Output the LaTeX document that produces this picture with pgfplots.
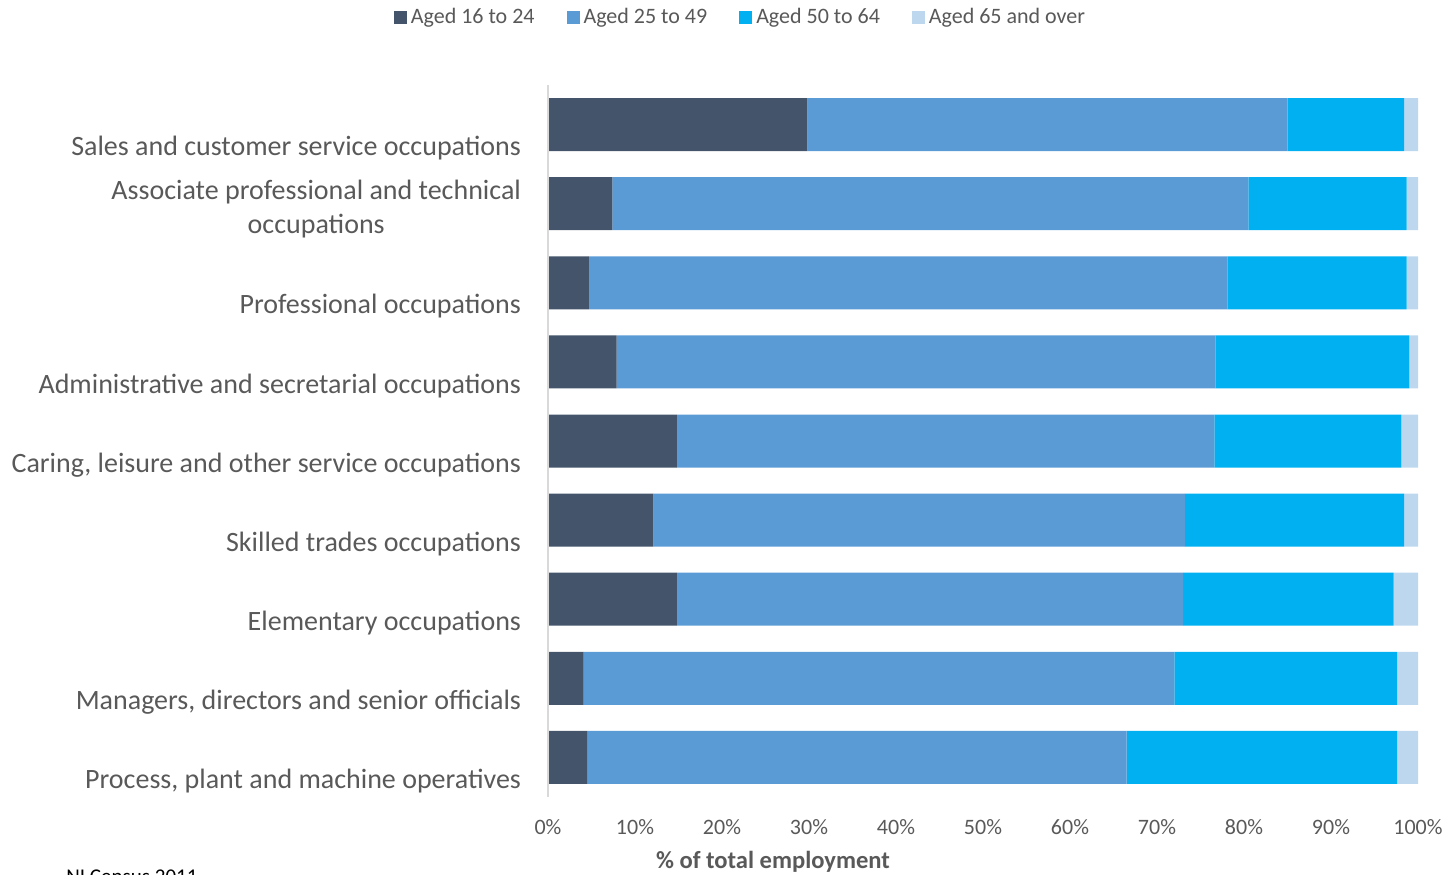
\documentclass[border=0pt]{standalone}
\usepackage{fontspec}
\setmainfont{Carlito}
\usepackage{pgfplots}
\pgfplotsset{compat=1.18}

\definecolor{c1}{HTML}{44546A}
\definecolor{c2}{HTML}{5B9BD5}
\definecolor{c3}{HTML}{00B0F0}
\definecolor{c4}{HTML}{BDD7EE}
\definecolor{txt}{HTML}{595959}
\definecolor{axline}{HTML}{D9D9D9}

\begin{document}
\begin{tikzpicture}
% page frame, 0.5pt per reference pixel
\useasboundingbox (-274pt,-38.5pt) rectangle (451.5pt,398.5pt);
\begin{axis}[
  at={(0,0)}, anchor=south west,
  width=435pt, height=356pt, scale only axis,
  xbar stacked, bar width=26.5pt,
  xmin=0, xmax=100, ymin=-0.5, ymax=8.5,
  axis line style={draw=none},
  major tick length=0pt,
  xtick={0,10,...,100},
  xticklabels={0\%,10\%,20\%,30\%,40\%,50\%,60\%,70\%,80\%,90\%,100\%},
  % labels sit below the bar centres, as in the reference
  ytick={-0.3,0.7,1.7,2.7,3.7,4.7,5.7,6.93,7.7},
  yticklabels={{Process, plant and machine operatives},
    {Managers, directors and senior officials},
    Elementary occupations,
    Skilled trades occupations,
    {Caring, leisure and other service occupations},
    Administrative and secretarial occupations,
    Professional occupations,
    {Associate professional and technical\\occupations},
    Sales and customer service occupations},
  yticklabel style={align=center, font=\fontsize{14}{17}\selectfont, text=txt, xshift=-10pt},
  xticklabel style={font=\fontsize{11}{13}\selectfont, text=txt, yshift=-7.5pt},
  xlabel={\% of total employment},
  xlabel style={at={(axis description cs:0.2586,0)}, anchor=center, yshift=-32.5pt,
    font=\bfseries\fontsize{12.3}{14}\selectfont, text=txt},
  legend columns=4,
  legend style={at={(axis description cs:0.2224,1)}, anchor=center, yshift=34pt,
    draw=none, font=\fontsize{11}{13}\selectfont, text=txt,
    /tikz/every even column/.append style={column sep=14pt}},
  legend image code/.code={\draw[#1,draw=none] (0pt,-3.25pt) rectangle (6.5pt,3.25pt);},
  clip=false,
]
\draw[axline, line width=1pt] (axis cs:0,-0.5) -- (axis cs:0,8.5);

\addplot[fill=c1, draw=none] coordinates {
  (4.5,0) (4.1,1) (14.8,2) (12.1,3) (14.8,4) (7.9,5) (4.7,6) (7.4,7) (29.8,8)};
\addlegendentry{Aged 16 to 24}
\addplot[fill=c2, draw=none] coordinates {
  (62.0,0) (67.9,1) (58.2,2) (61.1,3) (61.8,4) (68.8,5) (73.4,6) (73.1,7) (55.2,8)};
\addlegendentry{Aged 25 to 49}
\addplot[fill=c3, draw=none] coordinates {
  (31.1,0) (25.6,1) (24.2,2) (25.2,3) (21.5,4) (22.3,5) (20.6,6) (18.2,7) (13.4,8)};
\addlegendentry{Aged 50 to 64}
\addplot[fill=c4, draw=none] coordinates {
  (2.4,0) (2.4,1) (2.8,2) (1.6,3) (1.9,4) (1.0,5) (1.3,6) (1.3,7) (1.6,8)};
\addlegendentry{Aged 65 and over}
\end{axis}
% source line, cut by the page edge as in the reference
\node[anchor=north west, font=\fontsize{10.5}{12}\selectfont, inner sep=0pt]
  at (-241pt,-36pt) {NI Census 2011};
\end{tikzpicture}
\end{document}
